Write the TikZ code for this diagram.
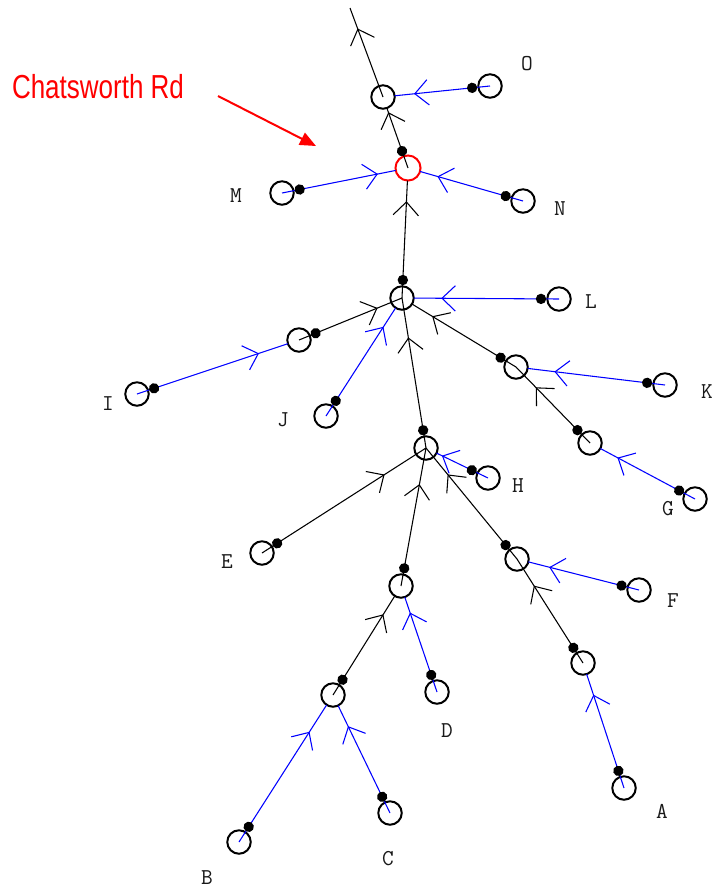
\documentclass[tikz,border=0pt]{standalone}
\usepackage{fontspec}
\newfontfamily\arialf{Liberation Sans}
\usetikzlibrary{decorations.markings,arrows.meta}
\begin{document}
\begin{tikzpicture}[x=0.75pt,y=-0.75pt,
 nd/.style={circle,draw=black,line width=1.5pt,minimum size=17.6pt,inner sep=0pt,outer sep=0pt},
 rednd/.style={nd,draw=red,minimum size=18.8pt},
 lbl/.style={font=\fontsize{17}{17}\selectfont\ttfamily,text=black!90,inner sep=0pt},
 bl/.style={blue,line width=0.8pt},
 bk/.style={black,line width=0.8pt},
 e/.style={postaction={decorate,decoration={markings,
   mark=at position 13.5pt with {\fill[black] (0,0) circle (3.9pt);},
   mark=at position -#1 with {\draw[line width=0.8pt] (-10pt,9.5pt) -- (0,0) -- (-10pt,-9.5pt);}}}},
 chevonly/.style={postaction={decorate,decoration={markings,
   mark=at position -#1 with {\draw[line width=0.8pt] (-10pt,9.5pt) -- (0,0) -- (-10pt,-9.5pt);}}}}
 ]
\fill[white] (0,0) rectangle (714,889);
% circles
\node[nd] (nO) at (490,86) {};
\node[nd] (P1) at (383,97) {};
\node[rednd] (RED) at (408,168) {};
\node[nd] (nN) at (523,201) {};
\node[nd] (nM) at (282,193) {};
\node[nd] (Q) at (402,298) {};
\node[nd] (nL) at (559,299) {};
\node[nd] (I2) at (299,340) {};
\node[nd] (nI) at (137,394) {};
\node[nd] (nJ) at (326,416) {};
\node[nd] (K2) at (516,367) {};
\node[nd] (nK) at (665,385) {};
\node[nd] (G2) at (590,443) {};
\node[nd] (nG) at (695,499) {};
\node[nd] (R) at (426,448) {};
\node[nd] (nH) at (488,478) {};
\node[nd] (nE) at (262,553) {};
\node[nd] (S) at (401,586) {};
\node[nd] (F2) at (517,559) {};
\node[nd] (nF) at (639,590) {};
\node[nd] (A2) at (583,663) {};
\node[nd] (nA) at (624,788) {};
\node[nd] (T) at (333,695) {};
\node[nd] (nD) at (437,692) {};
\node[nd] (nB) at (239,842) {};
\node[nd] (nC) at (390,813) {};
\coordinate (top) at (350,8);
% labels
\node[lbl] (lO) at (527,64) {O};
\node[lbl] (lN) at (560,209) {N};
\node[lbl] (lM) at (236,196) {M};
\node[lbl] (lL) at (591,302) {L};
\node[lbl] (lK) at (707,392) {K};
\node[lbl] (lI) at (108,404) {I};
\node[lbl] (lJ) at (283,420) {J};
\node[lbl] (lH) at (518,486) {H};
\node[lbl] (lG) at (668,509) {G};
\node[lbl] (lE) at (227,562) {E};
\node[lbl] (lF) at (673,601) {F};
\node[lbl] (lA) at (662,811) {A};
\node[lbl] (lD) at (447,731) {D};
\node[lbl] (lC) at (388,859) {C};
\node[lbl] (lB) at (207,878) {B};
% annotation
\node[text=red,font=\arialf\fontsize{19.5}{20}\selectfont,inner sep=0pt] (chat) at (98,87) {\scalebox{1}[1.28]{Chatsworth Rd}};
\coordinate (as) at (218,96);
\coordinate (ae) at (316,146);
\draw[red,line width=1.5pt,-{Triangle[length=12pt,width=10pt]}] (as) -- (ae);
% edges
\draw[bk,chevonly=16.9pt] (P1.center) -- (top);
\draw[bl,e=15.2pt] (nO.center) -- (P1);
\draw[bk,e=3.9pt] (RED.center) -- (P1);
\draw[bl,e=14.2pt] (nM.center) -- (RED);
\draw[bl,e=14.1pt] (nN.center) -- (RED);
\draw[bk,e=16.1pt] (Q.center) -- (RED);
\draw[bl,e=21.2pt] (nL.center) -- (Q);
\draw[bk,e=20.3pt] (I2.center) -- (Q.center);
\draw[bl,e=23.4pt] (nI.center) -- (I2);
\draw[bl,e=17.4pt] (nJ.center) -- (Q);
\draw[bk,e=18.2pt] (K2.center) -- (Q);
\draw[bl,e=20.8pt] (nK.center) -- (K2);
\draw[bk,e=21.8pt] (G2.center) -- (K2.center);
\draw[bl,e=15pt] (nG.center) -- (G2);
\draw[bk,e=30.5pt] (R.center) -- (Q.center);
\draw[bl,e=5pt] (nH.center) -- (R);
\draw[bk,e=37.5pt] (nE.center) -- (R.center);
\draw[bk,e=28.1pt] (S.center) -- (R.center);
\draw[bk,e=26.1pt] (F2.center) -- (R.center);
\draw[bl,e=16.7pt] (nF.center) -- (F2);
\draw[bk,e=24.2pt] (A2.center) -- (F2.center);
\draw[bl,e=16.8pt] (nA.center) -- (A2);
\draw[bk,e=16.7pt] (T.center) -- (S);
\draw[bl,e=12.8pt] (nD.center) -- (S);
\draw[bl,e=24.5pt] (nB.center) -- (T);
\draw[bl,e=17.7pt] (nC.center) -- (T);
\end{tikzpicture}
\end{document}
